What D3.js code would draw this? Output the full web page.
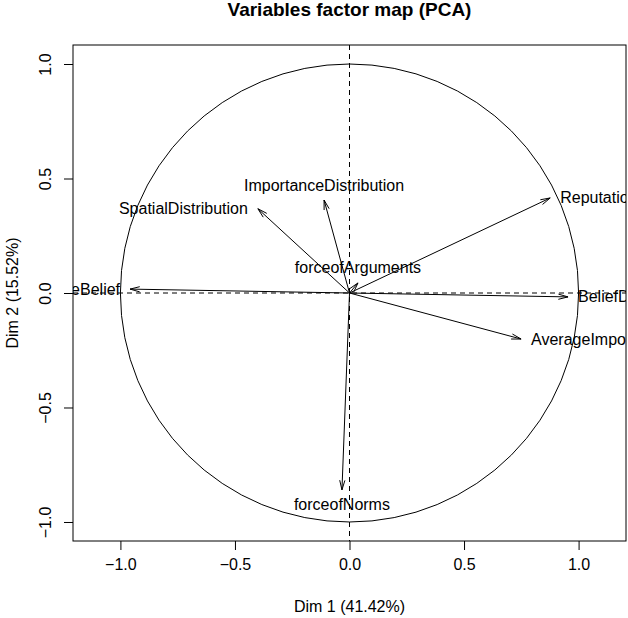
<!DOCTYPE html>
<html>
<head>
<meta charset="utf-8">
<script src="https://cdn.jsdelivr.net/npm/d3@7"></script>
<style>
  body { margin: 0; background: #fff; }
  svg { display: block; font-family: "Liberation Sans", Arial, sans-serif; }
</style>
</head>
<body>
<svg class="chart"></svg>
<script>
var width = 628;
var height = 618;

// variable coordinates on dims 1 and 2
var varNames = ["AverageBelief", "SpatialDistribution", "ImportanceDistribution", "forceofArguments",
    "Reputation", "BeliefDistribution", "AverageImportance", "forceofNorms"];
var dim1 = [-0.958, -0.400, -0.111, 0.037, 0.876, 0.954, 0.749, -0.033];
var dim2 = [0.017, 0.368, 0.406, 0.044, 0.415, -0.017, -0.201, -0.860];
var ticks = [-1.0, -0.5, 0.0, 0.5, 1.0];
var titleText = "Variables factor map (PCA)";
var xLabel = "Dim 1 (41.42%)";
var yLabel = "Dim 2 (15.52%)";

var plot = {left: 73, right: 626, top: 45, bottom: 541};

var x = d3.scaleLinear().domain([-1.207, 1.207]).range([plot.left, plot.right]);
var y = d3.scaleLinear().domain([-1.083, 1.083]).range([plot.bottom, plot.top]);

var chart = d3.select(".chart")
    .attr("width", width)
    .attr("height", height);

chart.append("defs").append("clipPath")
    .attr("id", "plotclip")
    .append("rect")
    .attr("x", plot.left)
    .attr("y", plot.top)
    .attr("width", plot.right - plot.left)
    .attr("height", plot.bottom - plot.top);

// title
chart.append("text")
    .attr("x", (plot.left + plot.right) / 2)
    .attr("y", 16)
    .attr("text-anchor", "middle")
    .style("font-weight", "bold")
    .style("font-size", "19px")
    .text(titleText);

var g = chart.append("g").attr("clip-path", "url(#plotclip)");

// dashed axes through origin
g.append("line")
    .attr("x1", plot.left).attr("x2", plot.right)
    .attr("y1", y(0)).attr("y2", y(0))
    .attr("stroke", "#000").attr("stroke-dasharray", "5,4");
g.append("line")
    .attr("x1", x(0)).attr("x2", x(0))
    .attr("y1", plot.top).attr("y2", plot.bottom)
    .attr("stroke", "#000").attr("stroke-dasharray", "5,4");

// correlation circle
g.append("ellipse")
    .attr("cx", x(0)).attr("cy", y(0))
    .attr("rx", x(1) - x(0)).attr("ry", y(0) - y(1))
    .attr("fill", "none").attr("stroke", "#000");

var vars = varNames.map(function(n, i) {
    return {name: n, x: dim1[i], y: dim2[i]};
});

// arrows
var headLen = 10, headAng = 15 * Math.PI / 180;
g.selectAll("path.arrow")
    .data(vars)
    .enter()
    .append("path")
    .attr("class", "arrow")
    .attr("fill", "none")
    .attr("stroke", "#000")
    .attr("d", function(d) {
        var x0 = x(0), y0 = y(0), x1 = x(d.x), y1 = y(d.y);
        var a = Math.atan2(y1 - y0, x1 - x0);
        var p = d3.path();
        p.moveTo(x0, y0);
        p.lineTo(x1, y1);
        p.moveTo(x1 - headLen * Math.cos(a - headAng), y1 - headLen * Math.sin(a - headAng));
        p.lineTo(x1, y1);
        p.lineTo(x1 - headLen * Math.cos(a + headAng), y1 - headLen * Math.sin(a + headAng));
        return p.toString();
    });

// labels, placed like R's text(pos=)
g.selectAll("text.lab")
    .data(vars)
    .enter()
    .append("text")
    .attr("class", "lab")
    .style("font-size", "16px")
    .attr("dominant-baseline", "central")
    .attr("x", function(d) {
        if (Math.abs(d.x) > Math.abs(d.y)) return x(d.x) + (d.x >= 0 ? 10 : -10);
        return x(d.x);
    })
    .attr("y", function(d) {
        if (Math.abs(d.x) > Math.abs(d.y)) return y(d.y);
        return y(d.y) + (d.y >= 0 ? -15 : 15);
    })
    .attr("text-anchor", function(d) {
        if (Math.abs(d.x) > Math.abs(d.y)) return d.x >= 0 ? "start" : "end";
        return "middle";
    })
    .text(function(d) { return d.name; });

// frame
chart.append("rect")
    .attr("x", plot.left).attr("y", plot.top)
    .attr("width", plot.right - plot.left)
    .attr("height", plot.bottom - plot.top)
    .attr("fill", "none").attr("stroke", "#000");

// axes
var fmt = d3.format(".1f");
var xAxis = chart.append("g")
    .attr("transform", "translate(0," + plot.bottom + ")")
    .call(d3.axisBottom(x).tickValues(ticks).tickSize(9).tickPadding(9).tickFormat(fmt));
var yAxis = chart.append("g")
    .attr("transform", "translate(" + plot.left + ",0)")
    .call(d3.axisLeft(y).tickValues(ticks).tickSize(9).tickFormat(fmt));

[xAxis, yAxis].forEach(function(ax) {
    ax.select(".domain").remove();
    ax.selectAll("line").attr("stroke", "#000");
    ax.selectAll("text")
        .attr("fill", "#000")
        .style("font-size", "16px")
        .style("font-family", "'Liberation Sans', Arial, sans-serif");
});

yAxis.selectAll("text")
    .attr("x", null).attr("dy", null)
    .attr("text-anchor", "middle")
    .attr("transform", "translate(-22,0) rotate(-90)")
    .attr("dominant-baseline", "alphabetic");

// axis titles
chart.append("text")
    .attr("x", (plot.left + plot.right) / 2)
    .attr("y", 612)
    .attr("text-anchor", "middle")
    .style("font-size", "16px")
    .text(xLabel);

chart.append("text")
    .attr("transform", "translate(18," + y(0) + ") rotate(-90)")
    .attr("text-anchor", "middle")
    .style("font-size", "16px")
    .text(yLabel);
</script>
</body>
</html>
